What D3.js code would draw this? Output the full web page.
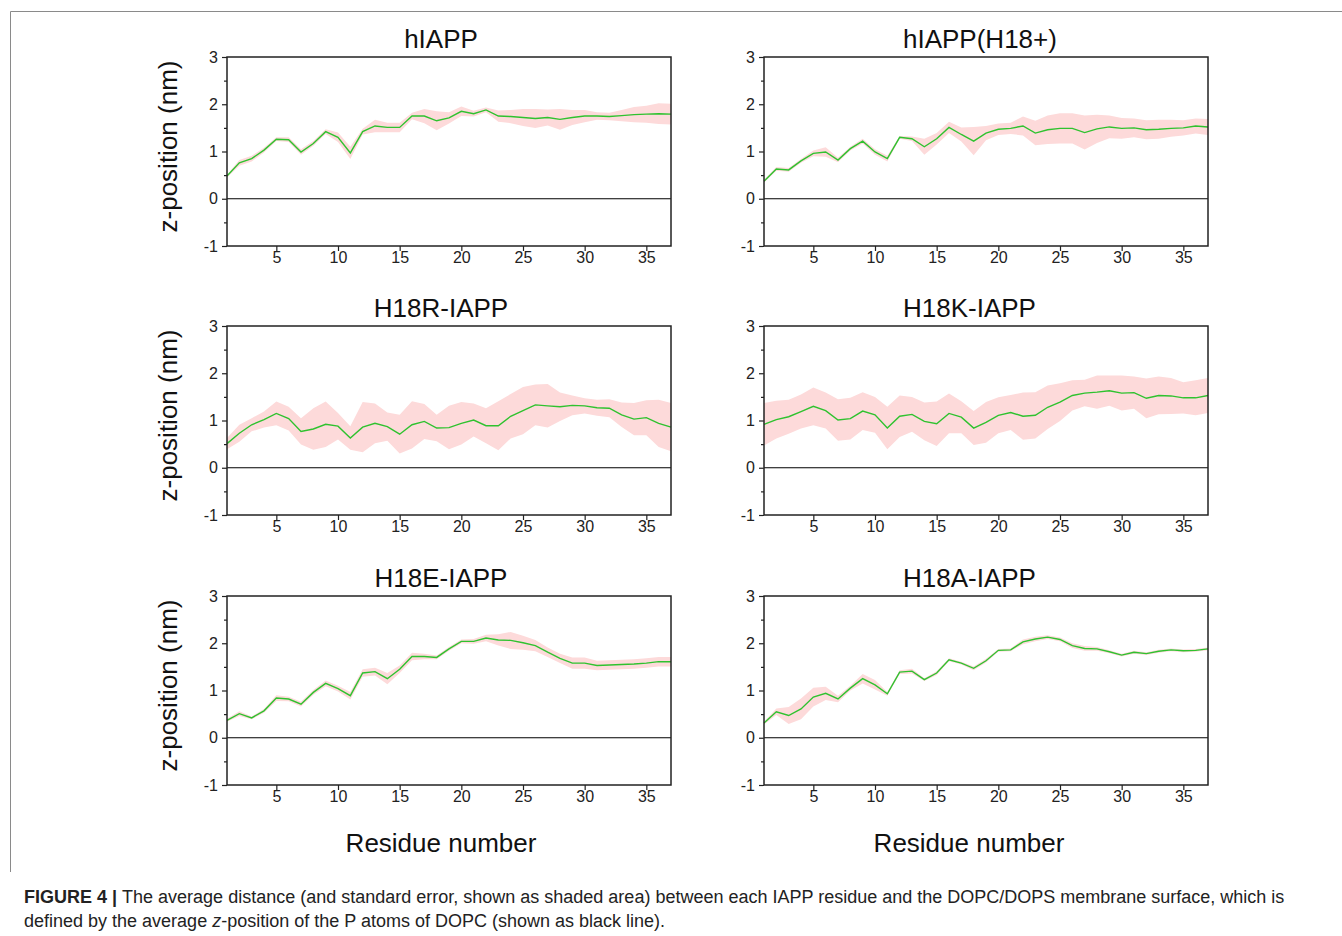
<!DOCTYPE html>
<html>
<head>
<meta charset="utf-8">
<script src="https://cdn.jsdelivr.net/npm/d3@7"></script>
<style>
  body { margin: 0; background: #fff; }
  svg { display: block; font-family: "Liberation Sans", Arial, sans-serif; }
  .tick text { fill: #222; }
</style>
</head>
<body>
<svg id="fig" width="1342" height="936"></svg>
<script>
// residue index 1..37
const residues = d3.range(1, 38)
const xTicks = [5, 10, 15, 20, 25, 30, 35]
const yTicks = [-1, 0, 1, 2, 3]
const yMinor = [-0.5, 0.5, 1.5, 2.5]

const titles = ["hIAPP", "hIAPP(H18+)", "H18R-IAPP", "H18K-IAPP", "H18E-IAPP", "H18A-IAPP"]

const hiappMean = [0.48, 0.76, 0.85, 1.03, 1.26, 1.25, 0.99, 1.17, 1.42, 1.30, 0.97, 1.42, 1.54, 1.51, 1.51, 1.75, 1.75, 1.65, 1.71, 1.85,
  1.80, 1.88, 1.75, 1.74, 1.72, 1.70, 1.72, 1.68, 1.72, 1.75, 1.75, 1.74, 1.76, 1.78, 1.79, 1.80, 1.79]
const hiappErr = [0.03, 0.06, 0.06, 0.05, 0.04, 0.05, 0.06, 0.05, 0.05, 0.10, 0.13, 0.06, 0.13, 0.10, 0.10, 0.07, 0.15, 0.20, 0.12, 0.10,
  0.06, 0.05, 0.12, 0.14, 0.18, 0.20, 0.17, 0.22, 0.16, 0.13, 0.08, 0.08, 0.12, 0.16, 0.18, 0.22, 0.22]

const h18pMean = [0.37, 0.63, 0.61, 0.80, 0.96, 0.99, 0.82, 1.06, 1.22, 0.99, 0.85, 1.30, 1.27, 1.10, 1.27, 1.51, 1.36, 1.22, 1.39, 1.47,
  1.49, 1.54, 1.39, 1.46, 1.49, 1.49, 1.40, 1.48, 1.52, 1.49, 1.50, 1.46, 1.47, 1.49, 1.50, 1.54, 1.52]
const h18pErr = [0.03, 0.04, 0.04, 0.04, 0.06, 0.10, 0.05, 0.04, 0.05, 0.06, 0.06, 0.03, 0.05, 0.17, 0.12, 0.12, 0.15, 0.30, 0.15, 0.12,
  0.12, 0.20, 0.26, 0.30, 0.32, 0.32, 0.36, 0.30, 0.24, 0.22, 0.20, 0.20, 0.20, 0.18, 0.16, 0.16, 0.17]

const h18rMean = [0.51, 0.73, 0.91, 1.02, 1.15, 1.04, 0.77, 0.82, 0.92, 0.88, 0.63, 0.86, 0.94, 0.87, 0.71, 0.91, 0.98, 0.84, 0.85, 0.94,
  1.01, 0.89, 0.89, 1.09, 1.21, 1.33, 1.31, 1.29, 1.32, 1.31, 1.27, 1.26, 1.12, 1.03, 1.06, 0.94, 0.86]
const h18rErr = [0.12, 0.18, 0.14, 0.17, 0.25, 0.25, 0.28, 0.44, 0.48, 0.28, 0.25, 0.53, 0.42, 0.30, 0.41, 0.50, 0.37, 0.28, 0.46, 0.45,
  0.35, 0.37, 0.52, 0.47, 0.50, 0.43, 0.46, 0.30, 0.21, 0.16, 0.17, 0.19, 0.26, 0.34, 0.37, 0.50, 0.51]

const h18kMean = [0.92, 1.02, 1.08, 1.19, 1.30, 1.21, 1.01, 1.04, 1.20, 1.12, 0.84, 1.09, 1.13, 0.98, 0.93, 1.15, 1.07, 0.84, 0.96, 1.11,
  1.17, 1.09, 1.11, 1.28, 1.39, 1.53, 1.58, 1.60, 1.63, 1.58, 1.59, 1.47, 1.53, 1.52, 1.48, 1.48, 1.53]
const h18kErr = [0.45, 0.40, 0.36, 0.36, 0.40, 0.38, 0.44, 0.44, 0.40, 0.38, 0.45, 0.44, 0.37, 0.40, 0.47, 0.42, 0.34, 0.36, 0.43, 0.38,
  0.37, 0.50, 0.49, 0.46, 0.40, 0.32, 0.28, 0.35, 0.32, 0.37, 0.34, 0.42, 0.40, 0.38, 0.33, 0.37, 0.37]

const h18eMean = [0.37, 0.51, 0.42, 0.57, 0.84, 0.82, 0.71, 0.96, 1.15, 1.04, 0.89, 1.37, 1.40, 1.25, 1.45, 1.72, 1.72, 1.70, 1.88, 2.04,
  2.04, 2.11, 2.07, 2.06, 2.01, 1.95, 1.81, 1.68, 1.58, 1.58, 1.53, 1.54, 1.55, 1.56, 1.58, 1.61, 1.61]
const h18eErr = [0.03, 0.05, 0.03, 0.04, 0.06, 0.05, 0.05, 0.05, 0.06, 0.06, 0.08, 0.08, 0.08, 0.12, 0.08, 0.08, 0.06, 0.04, 0.04, 0.04,
  0.05, 0.07, 0.12, 0.18, 0.15, 0.12, 0.10, 0.10, 0.12, 0.12, 0.10, 0.10, 0.10, 0.10, 0.10, 0.10, 0.10]

const h18aMean = [0.31, 0.55, 0.47, 0.61, 0.86, 0.94, 0.82, 1.05, 1.25, 1.12, 0.93, 1.39, 1.41, 1.23, 1.37, 1.65, 1.58, 1.47, 1.63, 1.85,
  1.86, 2.03, 2.09, 2.13, 2.08, 1.95, 1.89, 1.88, 1.82, 1.75, 1.81, 1.78, 1.83, 1.86, 1.84, 1.85, 1.88]
const h18aErr = [0.03, 0.07, 0.18, 0.22, 0.20, 0.14, 0.07, 0.05, 0.10, 0.10, 0.04, 0.04, 0.05, 0.03, 0.04, 0.03, 0.03, 0.04, 0.04, 0.03,
  0.03, 0.05, 0.05, 0.04, 0.04, 0.05, 0.05, 0.04, 0.03, 0.03, 0.03, 0.03, 0.03, 0.03, 0.03, 0.03, 0.03]

const means = [hiappMean, h18pMean, h18rMean, h18kMean, h18eMean, h18aMean]
const errs = [hiappErr, h18pErr, h18rErr, h18kErr, h18eErr, h18aErr]

const svg = d3.select("#fig")

// outer frame of the figure
svg.append("path")
  .attr("d", "M1342,11.5H10.5V872")
  .attr("fill", "none")
  .attr("stroke", "#8a8a8a")
  .attr("stroke-width", 1)

const colX = [227, 764]
const rowY = [57, 326, 596]
const pw = 444
const ph = 189
// hyphen minus like the original, not the unicode minus
const fmt = d => String(d)

titles.forEach((title, i) => {
  const col = i % 2
  const row = Math.floor(i / 2)
  const left = colX[col]
  const top = rowY[row]

  const x = d3.scaleLinear().domain([1, 37]).range([left, left + pw])
  const y = d3.scaleLinear().domain([-1, 3]).range([top + ph, top])

  const g = svg.append("g").attr("class", "panel")
  const data = residues.map((r, k) => ({ r, m: means[i][k], e: errs[i][k] }))

  g.append("path")
    .datum(data)
    .attr("d", d3.area().x(d => x(d.r)).y0(d => y(d.m - d.e)).y1(d => y(d.m + d.e)))
    .attr("fill", "#fddada")

  // membrane surface (P atoms of DOPC)
  g.append("line")
    .attr("x1", x(1)).attr("x2", x(37))
    .attr("y1", y(0)).attr("y2", y(0))
    .attr("stroke", "#000")
    .attr("stroke-width", 1.2)

  g.append("path")
    .datum(data)
    .attr("d", d3.line().x(d => x(d.r)).y(d => y(d.m)))
    .attr("fill", "none")
    .attr("stroke", "#2fc22f")
    .attr("stroke-width", 1.4)

  g.append("rect")
    .attr("x", left).attr("y", top)
    .attr("width", pw).attr("height", ph)
    .attr("fill", "none")
    .attr("stroke", "#222")
    .attr("stroke-width", 1.5)

  const yAxis = g.append("g")
    .attr("transform", `translate(${left},0)`)
    .call(d3.axisLeft(y).tickValues(yTicks).tickSize(5).tickPadding(4).tickFormat(fmt))
  yAxis.append("g")
    .call(d3.axisLeft(y).tickValues(yMinor).tickSize(3).tickFormat(""))
    .select(".domain").remove()

  const xAxis = g.append("g")
    .attr("transform", `translate(0,${top + ph})`)
    .call(d3.axisBottom(x).tickValues(xTicks).tickSize(5).tickPadding(1).tickFormat(fmt))

  ;[yAxis, xAxis].forEach(a => {
    a.selectAll(".domain").remove()
    a.selectAll("line").attr("stroke", "#222").attr("stroke-width", 1.2)
    a.selectAll("text").attr("font-size", 16).attr("font-family", "Liberation Sans, Arial, sans-serif")
  })

  // left column titles are centred, right column ones start at a common x
  g.append("text")
    .attr("x", col ? left + 139 : left + 214)
    .attr("y", top - 9)
    .attr("text-anchor", col ? "start" : "middle")
    .attr("font-size", 26)
    .attr("fill", "#111")
    .text(title)

  if (col === 0) {
    g.append("text")
      .attr("transform", `translate(177,${top + ph / 2 - 5}) rotate(-90)`)
      .attr("text-anchor", "middle")
      .attr("font-size", 26)
      .attr("fill", "#111")
      .text("z-position (nm)")
  }
  if (row === 2) {
    g.append("text")
      .attr("x", left + 214 - (col ? 9 : 0))
      .attr("y", 852)
      .attr("text-anchor", "middle")
      .attr("font-size", 26)
      .attr("fill", "#111")
      .text("Residue number")
  }
})

// caption
const cap = svg.append("g")
  .attr("font-family", "'Liberation Sans Narrow', 'Arial Narrow', sans-serif")
  .attr("font-size", 18)
  .attr("fill", "#222")

const line1 = cap.append("text").attr("x", 24).attr("y", 903)
line1.append("tspan").attr("font-weight", "bold").text("FIGURE 4 | ")
line1.append("tspan").text("The average distance (and standard error, shown as shaded area) between each IAPP residue and the DOPC/DOPS membrane surface, which is")

const line2 = cap.append("text").attr("x", 24).attr("y", 927)
line2.append("tspan").text("defined by the average ")
line2.append("tspan").attr("font-style", "italic").text("z")
line2.append("tspan").text("-position of the P atoms of DOPC (shown as black line).")
</script>
</body>
</html>
